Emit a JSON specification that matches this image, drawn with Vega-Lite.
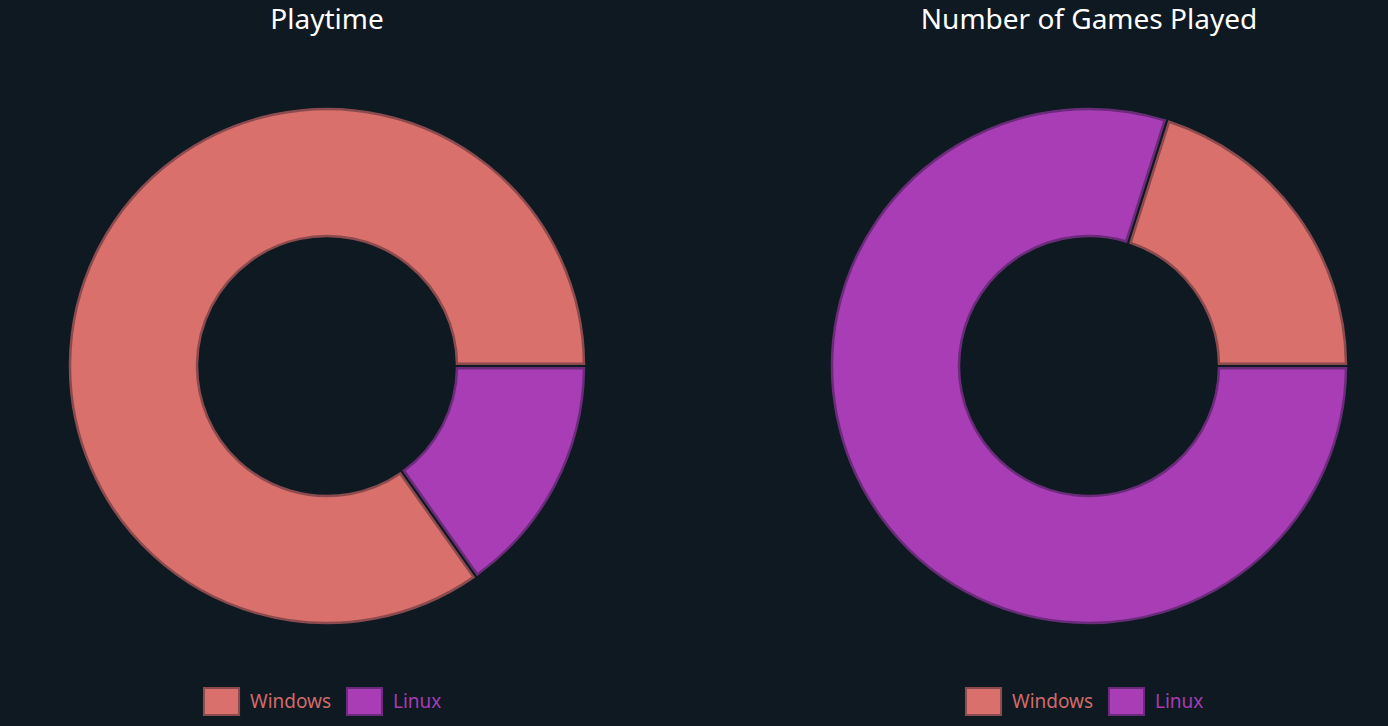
{
  "$schema": "https://vega.github.io/schema/vega-lite/v6.json",
  "background": "#0f1922",
  "padding": {"left": 47, "top": 7, "right": 19, "bottom": 7},
  "spacing": 202,
  "config": {
    "view": {"stroke": null},
    "title": {"font": "Noto Sans", "fontSize": 28, "fontWeight": "normal", "color": "#ffffff", "anchor": "middle", "baseline": "alphabetic", "offset": 51, "frame": "group"},
    "legend": {
      "orient": "none",
      "direction": "horizontal",
      "legendX": 160,
      "legendY": 601,
      "padding": 0,
      "title": null,
      "labelFont": "Noto Sans",
      "labelFontSize": 19,
      "labelOffset": 14,
      "columnPadding": 10,
      "symbolType": "M-1.3,-1H1.3V1H-1.3Z",
      "symbolSize": 729,
      "symbolOpacity": 1,
      "symbolStrokeWidth": 2
    }
  },
  "datasets": {
    "playtime": [
      {"os": "Windows", "value": 84.8},
      {"os": "Linux", "value": 15.2}
    ],
    "games": [
      {"os": "Windows", "value": 20.1},
      {"os": "Linux", "value": 79.9}
    ]
  },
  "hconcat": [
    {
      "title": "Playtime",
      "width": 560,
      "height": 560,
      "data": {"name": "playtime"},
      "mark": {"type": "arc", "radius": 257, "radius2": 130, "padAngle": 0.016, "strokeWidth": 2.5, "strokeJoin": "miter"},
      "encoding": {
        "theta": {"field": "value", "type": "quantitative", "stack": true, "scale": {"range": [1.5707963, 7.8539816]}},
        "order": {"field": "os", "sort": "ascending"},
        "color": {
          "field": "os", "type": "nominal",
          "scale": {"domain": ["Windows", "Linux"], "range": ["#d9706c", "#a93db5"]},
          "legend": {
            "encode": {
              "symbols": {"update": {"stroke": {"signal": "datum.value === 'Windows' ? '#8b4b4e' : '#6a2c7a'"}, "strokeWidth": {"value": 2}}},
              "labels": {"update": {"fill": {"signal": "datum.value === 'Windows' ? '#cf6b69' : '#a63cb3'"}}}
            }
          }
        },
        "stroke": {
          "field": "os", "type": "nominal",
          "scale": {"domain": ["Windows", "Linux"], "range": ["#8b4b4e", "#6a2c7a"]},
          "legend": null
        }
      }
    },
    {
      "title": "Number of Games Played",
      "width": 560,
      "height": 560,
      "data": {"name": "games"},
      "mark": {"type": "arc", "radius": 257, "radius2": 130, "padAngle": 0.016, "strokeWidth": 2.5, "strokeJoin": "miter"},
      "encoding": {
        "theta": {"field": "value", "type": "quantitative", "stack": true, "scale": {"range": [1.5707963, 7.8539816]}},
        "order": {"field": "os", "sort": "ascending"},
        "color": {
          "field": "os", "type": "nominal",
          "scale": {"domain": ["Windows", "Linux"], "range": ["#d9706c", "#a93db5"]},
          "legend": {
            "encode": {
              "symbols": {"update": {"stroke": {"signal": "datum.value === 'Windows' ? '#8b4b4e' : '#6a2c7a'"}, "strokeWidth": {"value": 2}}},
              "labels": {"update": {"fill": {"signal": "datum.value === 'Windows' ? '#cf6b69' : '#a63cb3'"}}}
            }
          }
        },
        "stroke": {
          "field": "os", "type": "nominal",
          "scale": {"domain": ["Windows", "Linux"], "range": ["#8b4b4e", "#6a2c7a"]},
          "legend": null
        }
      }
    }
  ],
  "resolve": {"scale": {"color": "independent", "stroke": "independent", "theta": "independent"}, "legend": {"color": "independent"}}
}
